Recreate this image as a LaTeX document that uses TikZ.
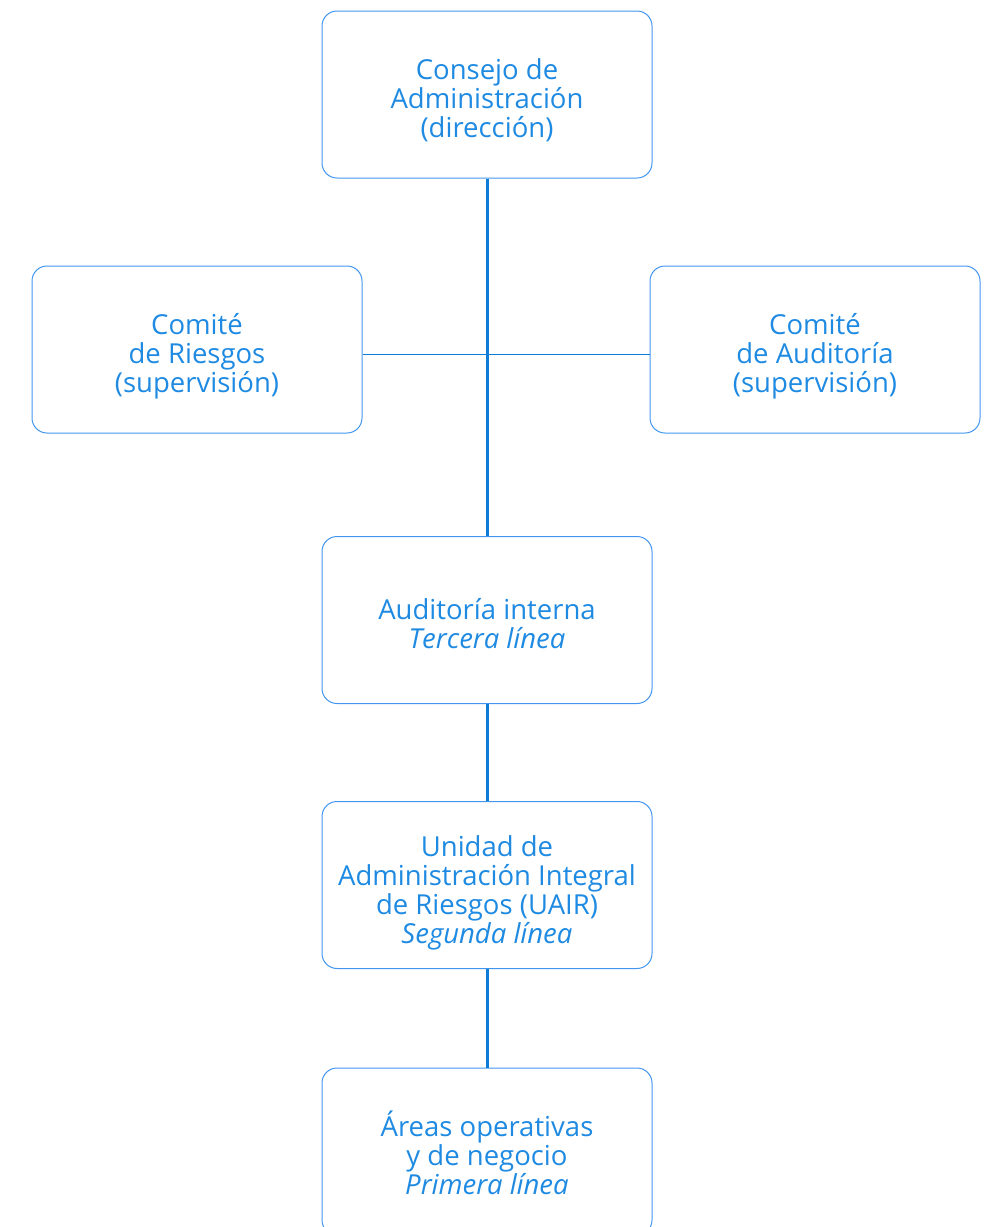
\documentclass[tikz,border=0pt]{standalone}
\usepackage{fontspec}
\setmainfont{Open Sans}
\definecolor{boxline}{RGB}{66,150,240}
\definecolor{txt}{RGB}{30,138,226}
\definecolor{trunk}{RGB}{12,124,216}
\begin{document}
\begin{tikzpicture}[x=1pt,y=-1pt,
  orgbox/.style={draw=boxline,line width=1pt,rounded corners=15pt,minimum width=330pt,minimum height=167pt,inner sep=0pt},
  boxtext/.style={align=center,text=txt,font=\fontsize{27.5}{29}\selectfont,inner sep=0pt},
  trunkline/.style={draw=trunk,line width=3pt},
  branchline/.style={draw=trunk,line width=1pt}]
\useasboundingbox (0,0) rectangle (994,1227);
\node[orgbox] (cons) at (487,94.5) {};
\node[orgbox] (crie) at (197,349.5) {};
\node[orgbox] (caud) at (815,349.5) {};
\node[orgbox] (audi) at (487,620) {};
\node[orgbox] (uair) at (487,885) {};
\node[orgbox] (area) at (487,1151.5) {};
\node[boxtext] (consT) at ([yshift=-6pt]cons.center) {Consejo de\\Administración\\(dirección)};
\node[boxtext] (crieT) at ([yshift=-7pt]crie.center) {Comité\\de Riesgos\\(supervisión)};
\node[boxtext] (caudT) at ([yshift=-7pt]caud.center) {Comité\\de Auditoría\\(supervisión)};
\node[boxtext] (audiT) at ([yshift=-3.5pt]audi.center) {Auditoría interna\\\itshape Tercera línea};
\node[boxtext] (uairT) at ([yshift=-8pt]uair.center) {Unidad de\\Administración Integral\\de Riesgos (UAIR)\\\itshape Segunda línea};
\node[boxtext] (areaT) at ([yshift=-1.5pt]area.center) {Áreas operativas\\y de negocio\\\itshape Primera línea};
\coordinate (mid) at (487,354);
\draw[branchline] (crie.east |- mid) -- (caud.west |- mid);
\draw[trunkline] (cons.south) -- (audi.north);
\draw[trunkline] (audi.south) -- (uair.north);
\draw[trunkline] (uair.south) -- (area.north);
\end{tikzpicture}
\end{document}
